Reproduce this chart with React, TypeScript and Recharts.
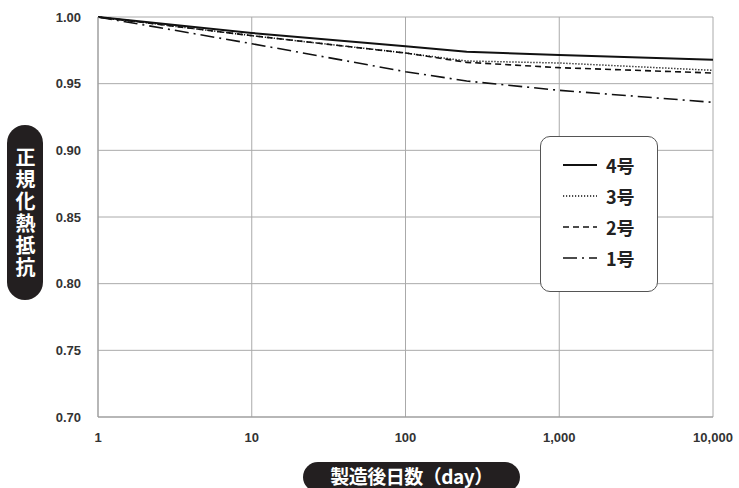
import { LineChart, Line, XAxis, YAxis, CartesianGrid } from 'recharts';

const days = [1, 10, 100, 250, 1000, 10000];
const no4 = [1.0, 0.988, 0.978, 0.974, 0.9715, 0.968];
const no3 = [1.0, 0.986, 0.973, 0.967, 0.9655, 0.96];
const no2 = [1.0, 0.986, 0.973, 0.966, 0.962, 0.958];
const no1 = [1.0, 0.98, 0.959, 0.952, 0.945, 0.936];

const xTicks = [1, 10, 100, 1000, 10000];
const yTicks = [0.7, 0.75, 0.8, 0.85, 0.9, 0.95, 1.0];

const series = [
  { key: 'no4', name: '4号', dash: undefined, width: 2 },
  { key: 'no3', name: '3号', dash: '1.2 1.8', width: 1.5 },
  { key: 'no2', name: '2号', dash: '6 4', width: 1.6 },
  { key: 'no1', name: '1号', dash: '14 5 2 5', width: 1.6 },
];

const data = days.map((d, i) => ({
  day: d,
  no4: no4[i],
  no3: no3[i],
  no2: no2[i],
  no1: no1[i],
}));

const jp = '"Noto Sans CJK JP", "Liberation Sans", sans-serif';
const tickStyle = {
  fontFamily: '"Liberation Sans", Arial, sans-serif',
  fontSize: 13,
  fontWeight: 700,
  fill: '#333',
};

const fmtDay = (v: number) => v.toLocaleString('en-US');

export default function App() {
  return (
    <div
      style={{
        position: 'absolute',
        left: 0,
        top: 0,
        width: 739,
        height: 488,
        background: '#fff',
        overflow: 'hidden',
      }}
    >
      <LineChart
        width={739}
        height={488}
        data={data}
        margin={{ top: 17, right: 26, left: 0, bottom: 41 }}
      >
        <CartesianGrid stroke="#aaa" strokeWidth={1} />
        <XAxis
          dataKey="day"
          type="number"
          scale="log"
          domain={[1, 10000]}
          ticks={xTicks}
          tickFormatter={fmtDay}
          tickLine={false}
          axisLine={{ stroke: '#999' }}
          tickMargin={10}
          height={30}
          tick={tickStyle}
          interval={0}
          allowDataOverflow
        />
        <YAxis
          type="number"
          domain={[0.7, 1.0]}
          ticks={yTicks}
          tickFormatter={(v: number) => v.toFixed(2)}
          tickLine={false}
          axisLine={{ stroke: '#999' }}
          tickMargin={11}
          width={98}
          tick={tickStyle}
          interval={0}
        />
        {series.map((s) => (
          <Line
            key={s.key}
            dataKey={s.key}
            name={s.name}
            type="linear"
            stroke="#111"
            strokeWidth={s.width}
            strokeDasharray={s.dash}
            dot={false}
            isAnimationActive={false}
          />
        ))}
      </LineChart>

      {/* legend box */}
      <div
        style={{
          position: 'absolute',
          left: 540,
          top: 136,
          width: 116,
          height: 154,
          border: '1.5px solid #555',
          borderRadius: 10,
          background: '#fff',
        }}
      >
        {series.map((s, i) => (
          <div
            key={s.key}
            style={{
              position: 'absolute',
              left: 22,
              top: 16 + i * 31,
              height: 24,
              display: 'flex',
              alignItems: 'center',
            }}
          >
            <svg width={34} height={6}>
              <line
                x1={0}
                y1={3}
                x2={34}
                y2={3}
                stroke="#111"
                strokeWidth={s.width}
                strokeDasharray={s.dash}
              />
            </svg>
            <span
              style={{
                marginLeft: 9,
                fontFamily: jp,
                fontWeight: 700,
                fontSize: 18,
                color: '#222',
              }}
            >
              {s.name}
            </span>
          </div>
        ))}
      </div>

      {/* y axis title */}
      <div
        style={{
          position: 'absolute',
          left: 7,
          top: 125,
          width: 36,
          height: 175,
          borderRadius: 18,
          background: '#231f20',
          color: '#fff',
          display: 'flex',
          alignItems: 'center',
          justifyContent: 'center',
        }}
      >
        <span
          style={{
            writingMode: 'vertical-rl',
            fontFamily: jp,
            fontWeight: 700,
            fontSize: 20,
            letterSpacing: 2,
            lineHeight: 1,
          }}
        >
          正規化熱抵抗
        </span>
      </div>

      {/* x axis title */}
      <div
        style={{
          position: 'absolute',
          left: 303,
          top: 462,
          width: 217,
          height: 30,
          borderRadius: 15,
          background: '#231f20',
          color: '#fff',
          display: 'flex',
          justifyContent: 'center',
          paddingTop: 3,
          boxSizing: 'border-box',
          fontFamily: jp,
          fontWeight: 700,
          fontSize: 19,
          lineHeight: '21px',
          letterSpacing: -0.5,
        }}
      >
        製造後日数（day）
      </div>
    </div>
  );
}
